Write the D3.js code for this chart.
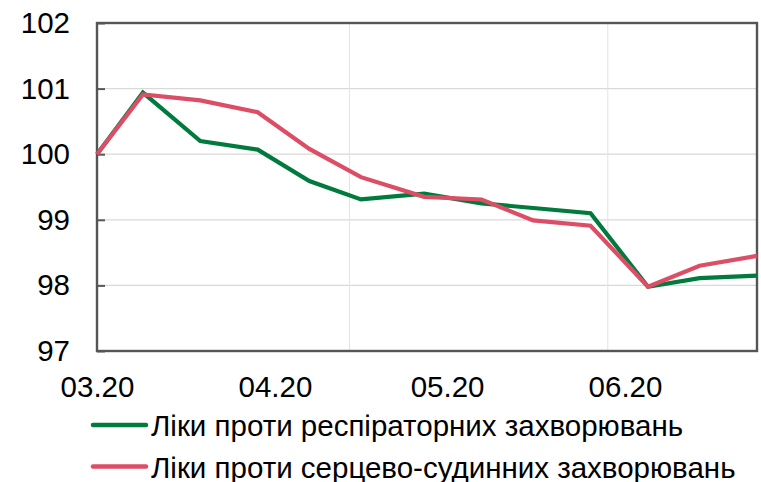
<!DOCTYPE html>
<html>
<head>
<meta charset="utf-8">
<script src="https://cdn.jsdelivr.net/npm/d3@7"></script>
<style>
  html, body { margin: 0; padding: 0; background: #fff; }
  svg { display: block; }
  text { font-family: "Liberation Sans", Arial, sans-serif; fill: #000; }
</style>
</head>
<body>
<svg id="chart" width="761" height="482"></svg>
<script>
const dates = ["2020-03-01","2020-03-09","2020-03-19","2020-03-29","2020-04-07","2020-04-16","2020-04-27","2020-05-07","2020-05-16","2020-05-26","2020-06-05","2020-06-14","2020-06-24"];
const respiratory = [100, 100.94, 100.2, 100.07, 99.59, 99.31, 99.40, 99.25, 99.18, 99.10, 97.98, 98.11, 98.15];
const cardio = [100, 100.91, 100.82, 100.64, 100.08, 99.65, 99.35, 99.31, 98.99, 98.91, 97.98, 98.30, 98.45];
const seriesNames = ["Ліки проти респіраторних захворювань", "Ліки проти серцево-судинних захворювань"];
const seriesColors = ["#007A3D", "#DC4E65"];
const yTicks = [97, 98, 99, 100, 101, 102];
const xTickDates = ["2020-03-01","2020-04-01","2020-05-01","2020-06-01"];
const xGridDates = ["2020-04-14","2020-05-29"];

(function () {
const parse = d3.timeParse("%Y-%m-%d");
const fmt = d3.timeFormat("%m.%y");
const svg = d3.select("#chart");
const FS = 29.5;

const mL = 97, mR = 757, mT = 23, mB = 351;
const x = d3.scaleTime().domain([parse(dates[0]), parse(dates[dates.length - 1])]).range([mL, mR]);
const y = d3.scaleLinear().domain([97, 102]).range([mB, mT]);

// horizontal gridlines
svg.append("g").selectAll("line").data(yTicks).join("line")
  .attr("x1", mL).attr("x2", mR)
  .attr("y1", d => y(d)).attr("y2", d => y(d))
  .attr("stroke", "#d9d9d9").attr("stroke-width", 1.3);

// vertical gridlines
svg.append("g").selectAll("line").data(xGridDates).join("line")
  .attr("x1", d => x(parse(d))).attr("x2", d => x(parse(d)))
  .attr("y1", mT).attr("y2", mB)
  .attr("stroke", "#e3e3e3").attr("stroke-width", 1);

// y axis with inward ticks
const yAxis = d3.axisLeft(y).tickValues(yTicks).tickSize(-8).tickPadding(27).tickFormat(d3.format("d"));
const yg = svg.append("g").attr("transform", `translate(${mL},0)`).call(yAxis);
yg.select(".domain").remove();
yg.selectAll(".tick line").attr("stroke", "#595959").attr("stroke-width", 2);
yg.selectAll(".tick text").attr("font-size", FS).attr("font-family", "Liberation Sans, Arial, sans-serif").attr("fill", "#000");

// x axis labels
const xAxis = d3.axisBottom(x).tickValues(xTickDates.map(parse)).tickSize(0).tickPadding(25).tickFormat(fmt);
const xg = svg.append("g").attr("transform", `translate(0,${mB})`).call(xAxis);
xg.select(".domain").remove();
xg.selectAll(".tick text").attr("font-size", FS).attr("font-family", "Liberation Sans, Arial, sans-serif").attr("fill", "#000");

// plot border
svg.append("rect").attr("x", mL).attr("y", mT).attr("width", mR - mL).attr("height", mB - mT)
  .attr("fill", "none").attr("stroke", "#555555").attr("stroke-width", 2.4);

// lines
const line = d3.line().x((d, i) => x(parse(dates[i]))).y(d => y(d));
[respiratory, cardio].forEach((s, k) => {
  svg.append("path").datum(s).attr("d", line)
    .attr("fill", "none").attr("stroke", seriesColors[k]).attr("stroke-width", 4.2)
    .attr("stroke-linejoin", "miter");
});

// legend
const legendY = [425, 466.5];
const lg = svg.append("g");
seriesNames.forEach((name, k) => {
  lg.append("line").attr("x1", 93).attr("x2", 146).attr("y1", legendY[k]).attr("y2", legendY[k])
    .attr("stroke", seriesColors[k]).attr("stroke-width", 4.5).attr("stroke-linecap", "round");
  lg.append("text").attr("x", 151).attr("y", legendY[k] + 11).attr("font-size", FS).text(name);
});
})();
</script>
</body>
</html>
